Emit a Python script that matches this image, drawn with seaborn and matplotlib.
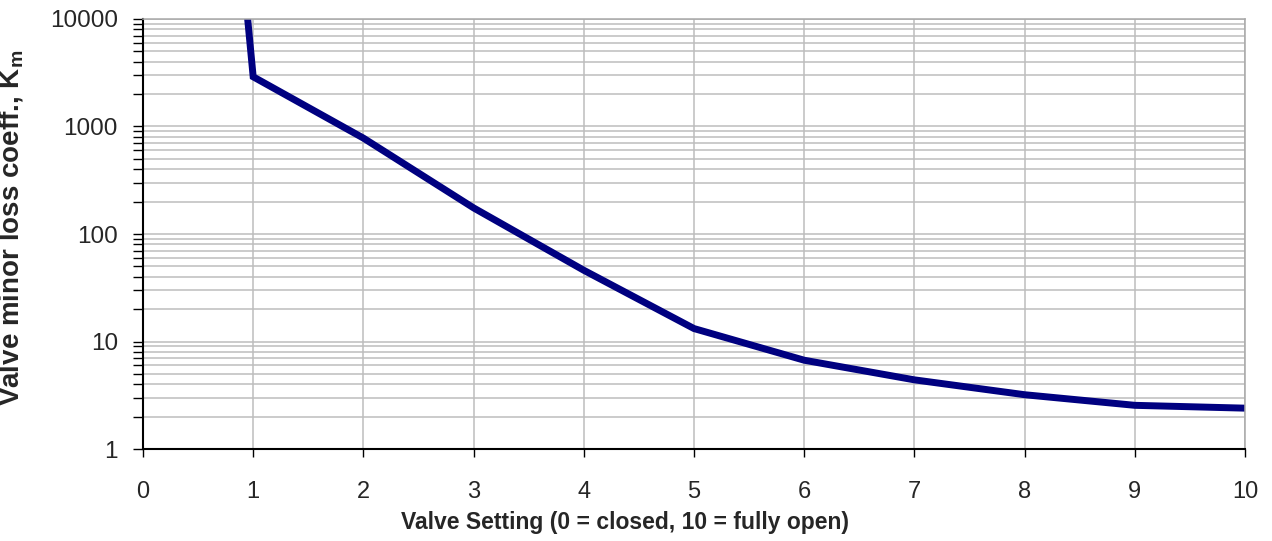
import matplotlib
matplotlib.use('Agg')
import matplotlib.pyplot as plt
import matplotlib.ticker as mticker
import seaborn as sns
import pandas as pd

# valve setting vs minor loss coefficient
setting = [0.95, 1, 2, 3, 4, 5, 6, 7, 8, 9, 10]
km = [10000, 2900, 780, 175, 46, 13.2, 6.7, 4.4, 3.2, 2.55, 2.4]
x_ticks = list(range(0, 11))
y_ticks = [1, 10, 100, 1000, 10000]

df = pd.DataFrame({'setting': setting, 'km': km})

sns.set_style('white')
plt.rcParams['font.family'] = ['Liberation Sans', 'DejaVu Sans']
plt.rcParams['mathtext.fontset'] = 'custom'
plt.rcParams['mathtext.rm'] = 'Liberation Sans'
plt.rcParams['mathtext.bf'] = 'Liberation Sans:bold'

fig = plt.figure(figsize=(12.72, 5.41), dpi=100)
ax = fig.add_axes([0.1124, 0.170, 0.9788 - 0.1124, 0.9649 - 0.170])

sns.lineplot(data=df, x='setting', y='km', ax=ax, color='#000080',
             linewidth=5, sort=False, solid_joinstyle='miter')

ax.set_yscale('log')
ax.set_xlim(0, 10)
ax.set_ylim(1, 10000)
ax.set_xticks(x_ticks)
ax.set_yticks(y_ticks)
ax.yaxis.set_major_formatter(mticker.FuncFormatter(lambda v, p: f'{v:g}'))
ax.yaxis.set_minor_locator(mticker.LogLocator(base=10, subs=range(2, 10)))
ax.yaxis.set_minor_formatter(mticker.NullFormatter())

ax.grid(True, which='major', axis='both', color='#bdbdbd', linewidth=1.1)
ax.grid(True, which='minor', axis='y', color='#bdbdbd', linewidth=1.1)
ax.set_axisbelow(True)

for side in ['top', 'right']:
    ax.spines[side].set_color('#a8a8a8')
    ax.spines[side].set_linewidth(1.1)
for side in ['left', 'bottom']:
    ax.spines[side].set_color('black')
    ax.spines[side].set_linewidth(1.5)

ax.tick_params(axis='x', which='major', direction='out', length=6, width=1,
               color='black', bottom=True, labelsize=17, pad=17)
ax.tick_params(axis='y', which='major', direction='out', length=7, width=1,
               color='black', left=True, labelsize=17.5, pad=11)
ax.tick_params(axis='y', which='minor', direction='out', length=7, width=1,
               color='black', left=True)

ax.set_xlabel('Valve Setting (0 = closed, 10 = fully open)', fontsize=16.5,
              fontweight='bold')
ax.set_ylabel(r'Valve minor loss coeff., K$_\mathbf{m}$', fontsize=20,
              fontweight='bold')
ax.xaxis.set_label_coords(0.437, -0.145)
ax.yaxis.set_label_coords(-0.106, 0.514)

fig.savefig('out.png', dpi=100)
